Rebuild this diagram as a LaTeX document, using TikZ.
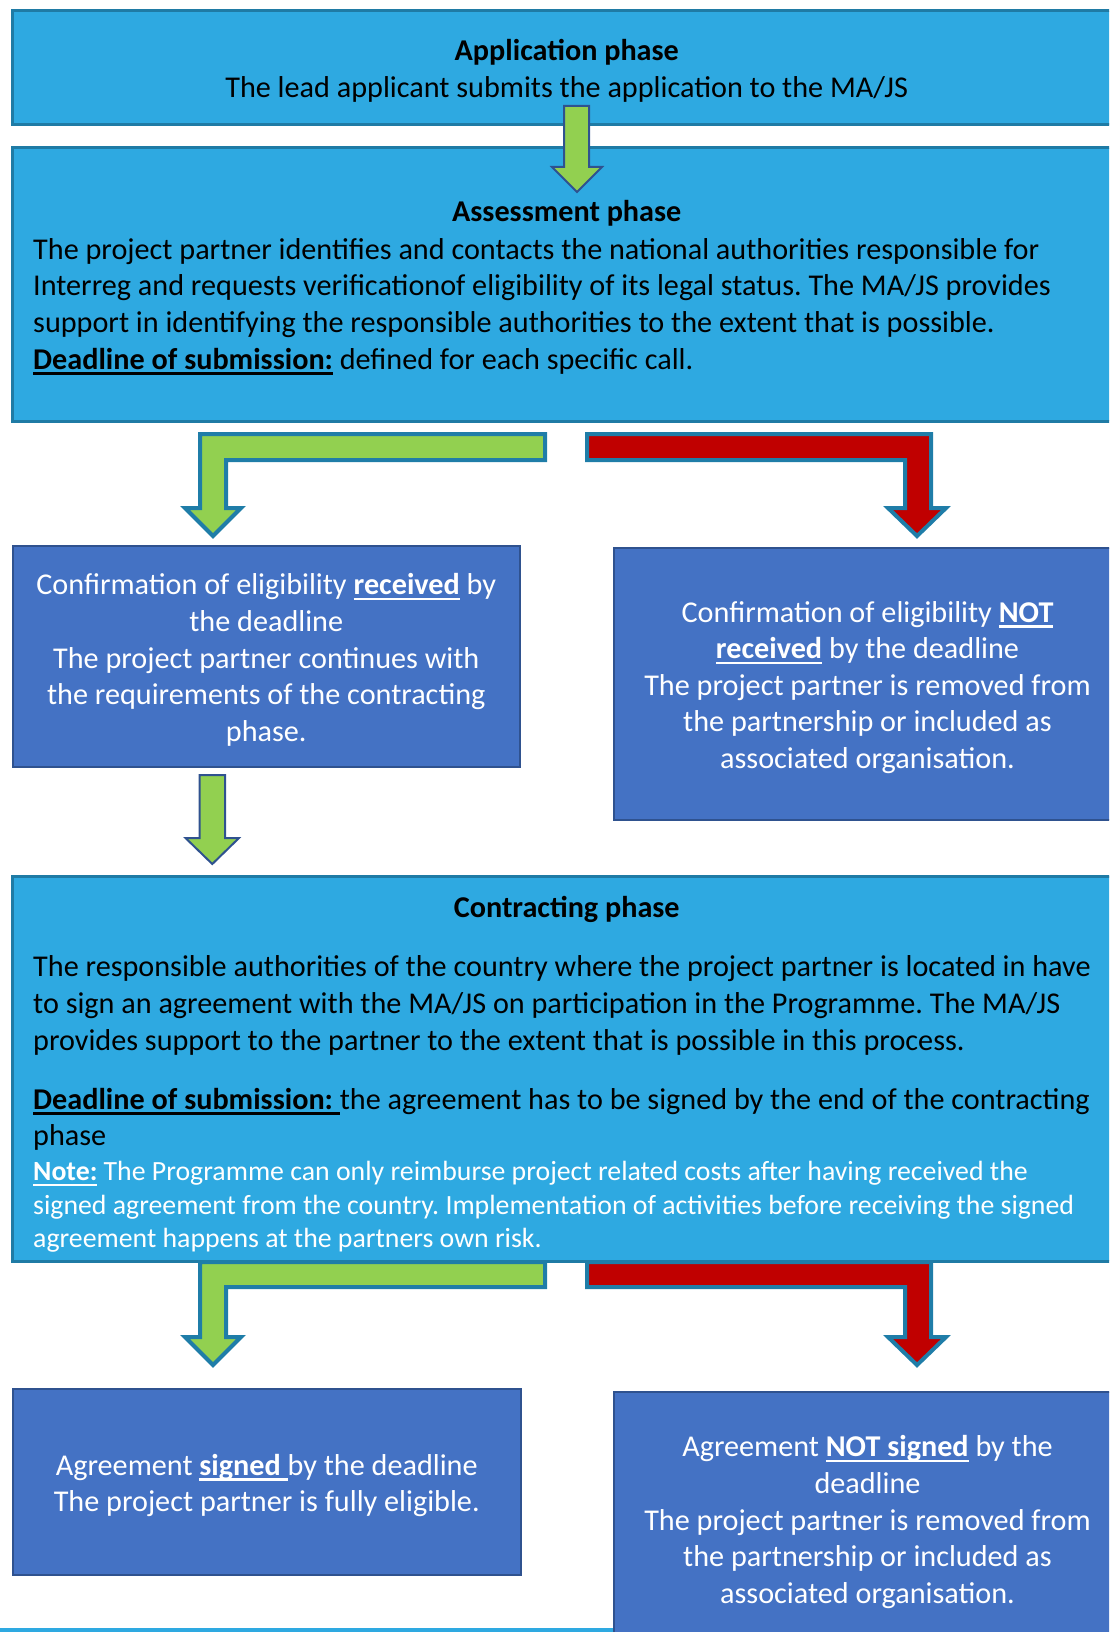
\documentclass[tikz,border=0pt]{standalone}
\usepackage{fontspec}
\setmainfont{Carlito}
\frenchspacing
\newsavebox{\myulbox}
\newcommand{\myul}[1]{\sbox{\myulbox}{#1}\rlap{\rule[-5.5pt]{\wd\myulbox}{2.5pt}}\usebox{\myulbox}}
\definecolor{sky}{HTML}{2EA9E1}
\definecolor{skyline}{HTML}{1F7BA5}
\definecolor{med}{HTML}{4472C4}
\definecolor{medline}{HTML}{2F528F}
\definecolor{grn}{HTML}{92D050}
\definecolor{rd}{HTML}{C00000}
\definecolor{tealline}{HTML}{1F7DA8}
\tikzset{
  bigfont/.style={font=\fontsize{30.2}{36.6}\selectfont},
  notefont/.style={font=\fontsize{27.8}{33.6}\selectfont},
  skybox/.style={draw=skyline, line width=3pt, fill=sky, rectangle, inner sep=0pt},
  medbox/.style={draw=medline, line width=2pt, fill=med, rectangle, inner sep=0pt},
  txt/.style={inner sep=0pt, bigfont},
  wtxt/.style={inner sep=0pt, bigfont, text=white, align=center},
  garrow/.style={fill=grn, draw=medline, line width=2pt, line join=miter},
  bentg/.style={fill=grn, draw=tealline, line width=4pt, line join=miter},
  bentr/.style={fill=rd, draw=tealline, line width=4pt, line join=miter},
}
\begin{document}
\begin{tikzpicture}[x=1pt, y=-1pt]
\useasboundingbox (0,0) rectangle (1109,1632);
\clip (0,0) rectangle (1109,1632);

% boxes
\node[skybox, minimum width=1108.5pt, minimum height=114pt] (app) at (566.75,68) {};
\node[txt, align=center] (apptext) at (566.75,71)
  {\textbf{Application phase}\\The lead applicant submits the application to the MA/JS};

\node[skybox, minimum width=1108.5pt, minimum height=273pt] (assess) at (566.75,284.5) {};
\node[txt] (assesstitle) at (566.75,213.5) {\textbf{Assessment phase}};
\node[txt, align=left, anchor=west] (assessbody) at (33,306.5)
  {The project partner identifies and contacts the national authorities responsible for\\
   Interreg and requests verificationof eligibility of its legal status. The MA/JS provides\\
   support in identifying the responsible authorities to the extent that is possible.\\
   \myul{\textbf{Deadline of submission:}} defined for each specific call.};

\node[medbox, minimum width=507.5pt, minimum height=221pt] (recv) at (266.25,656.5) {};
\node[wtxt] (recvtext) at (266.25,660)
  {Confirmation of eligibility \myul{\textbf{received}} by\\the deadline\\The project partner continues with\\the requirements of the contracting\\phase.};

\node[medbox, minimum width=507pt, minimum height=272pt] (notrecv) at (867.5,684) {};
\node[wtxt] (notrecvtext) at (867.5,687.5)
  {Confirmation of eligibility \myul{\textbf{NOT}}\\\myul{\textbf{received}} by the deadline\\The project partner is removed from\\the partnership or included as\\associated organisation.};

\node[skybox, minimum width=1108.5pt, minimum height=385pt] (contract) at (566.75,1068.5) {};
\node[txt] (contracttitle) at (566.75,909) {\textbf{Contracting phase}};
\node[txt, align=left, anchor=west] (contractbody) at (33,1005.5)
  {The responsible authorities of the country where the project partner is located in have\\
   to sign an agreement with the MA/JS on participation in the Programme. The MA/JS\\
   provides support to the partner to the extent that is possible in this process.};
\node[txt, align=left, anchor=west] (contractdeadline) at (33,1119.5)
  {\myul{\textbf{Deadline of submission:\ }}the agreement has to be signed by the end of the contracting\\phase};
\node[txt, notefont, text=white, align=left, anchor=west] (contractnote) at (33,1207)
  {\myul{\textbf{Note:}} The Programme can only reimburse project related costs after having received the\\
   signed agreement from the country. Implementation of activities before receiving the signed\\
   agreement happens at the partners own risk.};

\fill[sky] (0,1628) rectangle (614,1645);

\node[medbox, minimum width=508.5pt, minimum height=186pt] (signed) at (266.75,1482) {};
\node[wtxt] (signedtext) at (266.75,1485.5)
  {Agreement \myul{\textbf{signed\ }}by the deadline\\The project partner is fully eligible.};

\node[medbox, minimum width=507pt, minimum height=253pt] (notsigned) at (867.5,1518.5) {};
\node[wtxt] (notsignedtext) at (867.5,1522)
  {Agreement \myul{\textbf{NOT signed}} by the\\deadline\\The project partner is removed from\\the partnership or included as\\associated organisation.};

% straight arrows
\draw[garrow] (564,106) -- (589,106) -- (589,167) -- (602,167) -- (577,192) -- (552,167) -- (564,167) -- cycle;
\draw[garrow] (199.5,775) -- (225,775) -- (225,838) -- (239,838) -- (212.3,864) -- (185.5,838) -- (199.5,838) -- cycle;

% bent arrows after assessment
\draw[bentg] (545,434) -- (200,434) -- (200,508) -- (185,508) -- (213,536) -- (241,508) -- (226,508) -- (226,460) -- (545,460) -- cycle;
\draw[bentr] (587,434) -- (931,434) -- (931,508) -- (946,508) -- (917,536) -- (888,508) -- (905,508) -- (905,460) -- (587,460) -- cycle;

% bent arrows after contracting
\draw[bentg] (545,1262) -- (200,1262) -- (200,1337) -- (185,1337) -- (213,1365) -- (241,1337) -- (226,1337) -- (226,1287) -- (545,1287) -- cycle;
\draw[bentr] (587,1262) -- (931,1262) -- (931,1337) -- (946,1337) -- (917,1365) -- (888,1337) -- (905,1337) -- (905,1287) -- (587,1287) -- cycle;
\end{tikzpicture}
\end{document}
